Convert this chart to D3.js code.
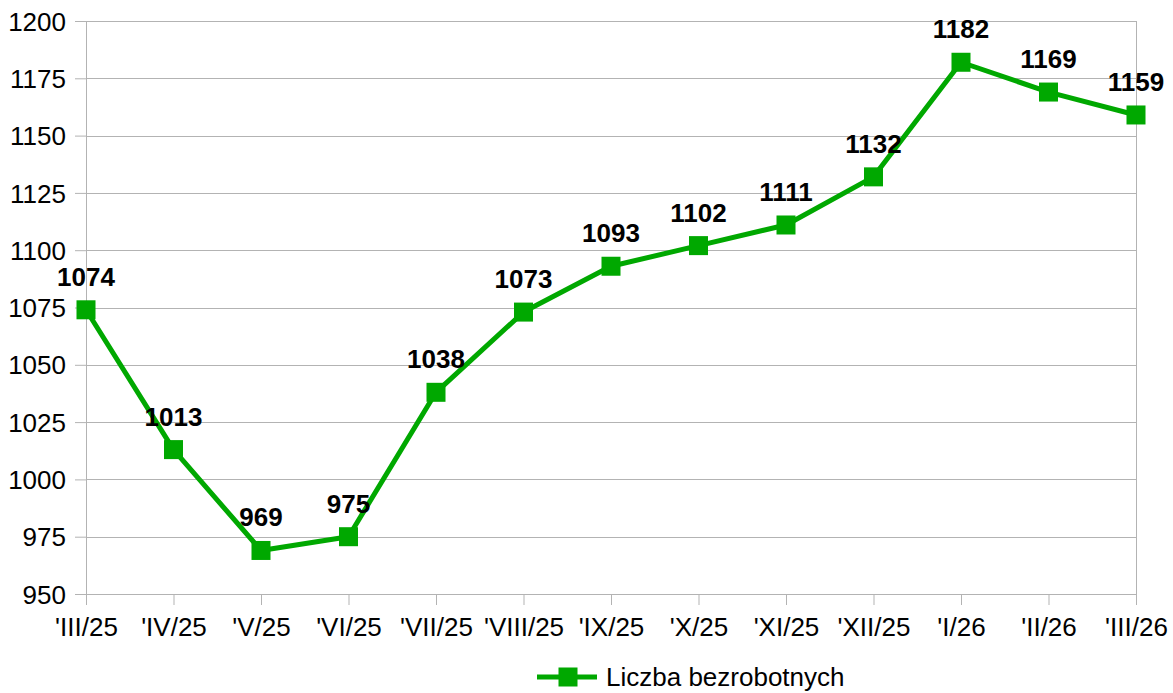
<!DOCTYPE html>
<html>
<head>
<meta charset="utf-8">
<script src="https://cdn.jsdelivr.net/npm/d3@7"></script>
<style>
  body { margin: 0; background: #fff; }
  svg { display: block; font-family: "Liberation Sans", Arial, sans-serif; }
</style>
</head>
<body>
<div id="wrapper"></div>
<script>
const months = ["'III/25", "'IV/25", "'V/25", "'VI/25", "'VII/25", "'VIII/25", "'IX/25",
  "'X/25", "'XI/25", "'XII/25", "'I/26", "'II/26", "'III/26"]
const unemployed = [1074, 1013, 969, 975, 1038, 1073, 1093, 1102, 1111, 1132, 1182, 1169, 1159]
const yTicks = [950, 975, 1000, 1025, 1050, 1075, 1100, 1125, 1150, 1175, 1200]
const seriesName = "Liczba bezrobotnych"

const green = "#00a800"
const gridColor = "#b3b3b3"
const fontSize = "26px"

// dimensions and framing
let dimensions = {
  width: 1173,
  height: 693,
  margin: { top: 21, right: 37, bottom: 99, left: 86 },
}
dimensions.boundedWidth = dimensions.width - dimensions.margin.left - dimensions.margin.right
dimensions.boundedHeight = dimensions.height - dimensions.margin.top - dimensions.margin.bottom

const wrapper = d3.select("#wrapper")
  .append("svg")
    .attr("width", dimensions.width)
    .attr("height", dimensions.height)

const bounds = wrapper.append("g")
    .attr("transform", `translate(${dimensions.margin.left},${dimensions.margin.top})`)

// scales
const xScale = d3.scalePoint()
  .domain(months)
  .range([0, dimensions.boundedWidth])

const yScale = d3.scaleLinear()
  .domain([950, 1200])
  .range([dimensions.boundedHeight, 0])

// gridlines
bounds.append("g")
  .selectAll("line")
  .data(yTicks)
  .join("line")
    .attr("x1", 0)
    .attr("x2", dimensions.boundedWidth)
    .attr("y1", d => Math.round(yScale(d)) + 0.5)
    .attr("y2", d => Math.round(yScale(d)) + 0.5)
    .attr("stroke", gridColor)
    .attr("stroke-width", 1)

// right border of plot
bounds.append("line")
    .attr("x1", dimensions.boundedWidth + 0.5)
    .attr("x2", dimensions.boundedWidth + 0.5)
    .attr("y1", 0)
    .attr("y2", dimensions.boundedHeight)
    .attr("stroke", gridColor)

// axes
const yAxis = bounds.append("g")
  .call(d3.axisLeft(yScale).tickValues(yTicks).tickSize(11).tickPadding(9).tickFormat(d3.format("d")))
yAxis.select(".domain").attr("stroke", gridColor)
yAxis.selectAll(".tick line").attr("stroke", gridColor)
yAxis.selectAll("text")
    .attr("fill", "#000")
    .style("font-size", fontSize)
    .style("font-family", "Liberation Sans, Arial, sans-serif")
    .attr("dy", "0.35em")

const xAxis = bounds.append("g")
    .attr("transform", `translate(0,${dimensions.boundedHeight})`)
  .call(d3.axisBottom(xScale).tickSize(11).tickPadding(13))
xAxis.select(".domain").attr("stroke", gridColor)
xAxis.selectAll(".tick line").attr("stroke", gridColor)
xAxis.selectAll("text")
    .attr("fill", "#000")
    .style("font-size", fontSize)
    .style("font-family", "Liberation Sans, Arial, sans-serif")

// line
const lineGenerator = d3.line()
  .x((d, i) => xScale(months[i]))
  .y(d => yScale(d))

bounds.append("path")
    .datum(unemployed)
    .attr("d", lineGenerator)
    .attr("fill", "none")
    .attr("stroke", green)
    .attr("stroke-width", 5)
    .attr("stroke-linejoin", "round")

// markers
const squareSize = 19
bounds.selectAll(".marker")
  .data(unemployed)
  .join("rect")
    .attr("class", "marker")
    .attr("x", (d, i) => xScale(months[i]) - squareSize / 2)
    .attr("y", d => yScale(d) - squareSize / 2)
    .attr("width", squareSize)
    .attr("height", squareSize)
    .attr("fill", green)

// data labels
bounds.selectAll(".label")
  .data(unemployed)
  .join("text")
    .attr("class", "label")
    .attr("x", (d, i) => xScale(months[i]))
    .attr("y", d => yScale(d) - 24)
    .attr("text-anchor", "middle")
    .style("font-size", fontSize)
    .style("font-weight", "bold")
    .attr("fill", "#000")
    .text(d => d)

// legend
const legend = wrapper.append("g")
    .attr("transform", "translate(537,677)")
legend.append("line")
    .attr("x1", 0)
    .attr("x2", 60)
    .attr("stroke", green)
    .attr("stroke-width", 5)
legend.append("rect")
    .attr("x", 31 - squareSize / 2)
    .attr("y", -squareSize / 2)
    .attr("width", squareSize)
    .attr("height", squareSize)
    .attr("fill", green)
legend.append("text")
    .attr("x", 69)
    .attr("y", 9)
    .style("font-size", fontSize)
    .attr("fill", "#000")
    .text(seriesName)
</script>
</body>
</html>
